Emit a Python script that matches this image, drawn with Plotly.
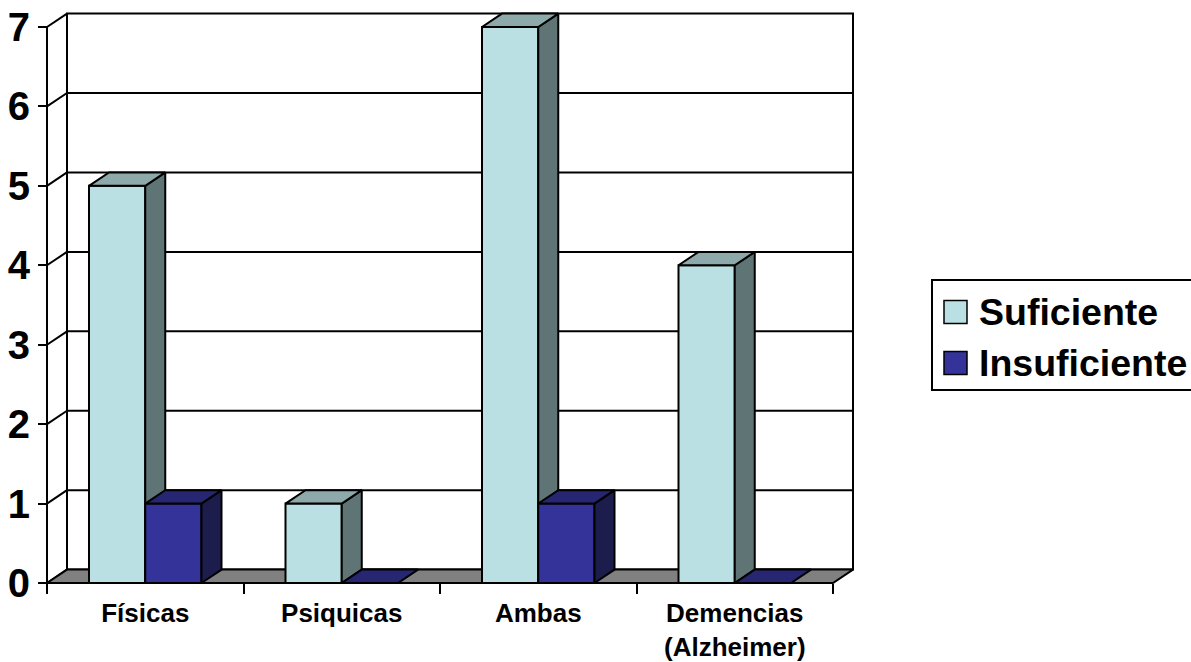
import plotly.graph_objects as go

# ---------------- data ----------------
categories = ["Físicas", "Psiquicas", "Ambas", "Demencias<br>(Alzheimer)"]
series_names = ["Suficiente", "Insuficiente"]
suficiente = [5, 1, 7, 4]
insuficiente = [1, 0, 1, 0]
y_ticks = [0, 1, 2, 3, 4, 5, 6, 7]

# ---------------- style ----------------
W, H = 1191, 662
L_M, R_M, T_M, B_M = 45, 334, 11, 77
PLOT_W = W - L_M - R_M
PLOT_H = H - T_M - B_M
X_UNIT = 196.5      # px per category
Y_UNIT = 79.43      # px per value unit
X0_PX = 47          # px of x = 0
Y0_PX = 583         # px of y = 0

DX = 20 / X_UNIT    # depth offset in x data units
DY = 13.4 / Y_UNIT  # depth offset in y data units
GAP = 42 / X_UNIT
BW = 56.25 / X_UNIT

colors = {
    "Suficiente": {"front": "#BAE0E3", "top": "#8EA9AA", "side": "#5F7475"},
    "Insuficiente": {"front": "#333399", "top": "#262673", "side": "#1D1D4D"},
}
FLOOR = "#808080"
LW = 2
FONT = "Liberation Sans, Arial, sans-serif"

x_lo = -(X0_PX - L_M) / X_UNIT
x_hi = x_lo + PLOT_W / X_UNIT
y_lo = -((H - B_M) - Y0_PX) / Y_UNIT
y_hi = y_lo + PLOT_H / Y_UNIT

n_cat = len(categories)
ymax = max(y_ticks)

fig = go.Figure()


def poly(xs, ys, fill, width=LW):
    fig.add_trace(go.Scatter(
        x=list(xs) + [xs[0]], y=list(ys) + [ys[0]], mode="lines",
        fill="toself", fillcolor=fill,
        line=dict(color="black", width=width),
        hoverinfo="skip", showlegend=False))


def seg(xs, ys, width=LW):
    fig.add_trace(go.Scatter(
        x=xs, y=ys, mode="lines", line=dict(color="black", width=width),
        hoverinfo="skip", showlegend=False))


# back wall
poly([DX, n_cat + DX, n_cat + DX, DX], [DY, DY, ymax + DY, ymax + DY], "white")
# gridlines on back wall
for k in y_ticks[1:-1]:
    seg([DX, n_cat + DX], [k + DY, k + DY])
# left wall diagonals
for k in y_ticks:
    seg([0, DX], [k, k + DY])
# front vertical axis line
seg([0, 0], [0, ymax])
# floor
poly([0, n_cat, n_cat + DX, DX], [0, 0, DY, DY], FLOOR)

# bars
all_series = [suficiente, insuficiente]
for i in range(n_cat):
    for s, name in enumerate(series_names):
        v = all_series[s][i]
        c = colors[name]
        x0 = i + GAP + s * BW
        x1 = x0 + BW
        if v > 0:
            poly([x0, x1, x1, x0], [0, 0, v, v], c["front"])
            poly([x1, x1 + DX, x1 + DX, x1], [0, DY, v + DY, v], c["side"])
        poly([x0, x1, x1 + DX, x0 + DX], [v, v, v + DY, v + DY], c["top"])

fig.update_layout(
    template="none",
    width=W, height=H, autosize=False,
    margin=dict(l=L_M, r=R_M, t=T_M, b=B_M, pad=0, autoexpand=False),
    paper_bgcolor="white", plot_bgcolor="white",
    showlegend=False,
    xaxis=dict(
        range=[x_lo, x_hi], showgrid=False, zeroline=False, showline=False,
        automargin=False,
        tickmode="array", tickvals=[i + 0.5 for i in range(n_cat)],
        ticktext=categories, ticks="", ticklabelstandoff=12,
        tickfont=dict(family=FONT, size=26, color="black", weight="bold"),
        minor=dict(tickmode="array", tickvals=list(range(n_cat + 1)),
                   ticks="outside", ticklen=10, tickwidth=LW, tickcolor="black",
                   showgrid=False),
        anchor="free", position=(H - B_M - Y0_PX) / PLOT_H,
        fixedrange=True,
    ),
    yaxis=dict(
        range=[y_lo, y_hi], showgrid=False, zeroline=False, showline=False,
        automargin=False,
        tickmode="array", tickvals=y_ticks, ticks="outside", ticklen=9,
        tickwidth=LW, tickcolor="black",
        tickfont=dict(family=FONT, size=40, color="black", weight="bold"),
        anchor="free", position=(X0_PX - L_M) / PLOT_W,
        fixedrange=True,
    ),
)


# ---------------- legend (manual, to match large swatches) ----------------
def px_x(px):
    return (px - L_M) / PLOT_W


def px_y(py):
    return ((H - B_M) - py) / PLOT_H


fig.add_shape(type="rect", xref="paper", yref="paper",
              x0=px_x(932), x1=px_x(1200), y0=px_y(390), y1=px_y(280),
              line=dict(color="black", width=LW), fillcolor="white")
rows_py = [312, 363]
for name, py in zip(series_names, rows_py):
    fig.add_shape(type="rect", xref="paper", yref="paper",
                  x0=px_x(944), x1=px_x(967), y0=px_y(py + 11.5), y1=px_y(py - 11.5),
                  line=dict(color="black", width=1.5), fillcolor=colors[name]["front"])
    fig.add_annotation(xref="paper", yref="paper", x=px_x(977), y=px_y(py),
                       xanchor="left", yanchor="middle", showarrow=False,
                       text=name,
                       font=dict(family=FONT, size=37.5, color="black", weight="bold"))

fig.write_html("out.html")
